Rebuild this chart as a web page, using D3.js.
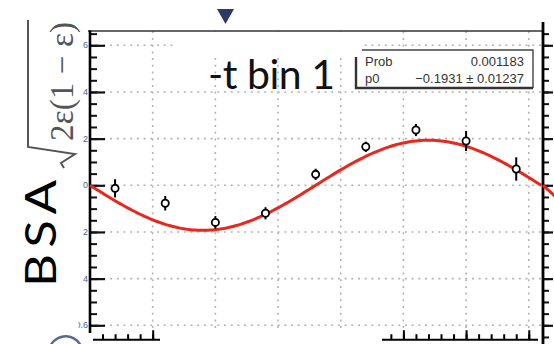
<!DOCTYPE html>
<html><head><meta charset="utf-8">
<script src="https://cdn.jsdelivr.net/npm/d3@7"></script>
<style>html,body{margin:0;padding:0;background:#fff;overflow:hidden}</style>
</head><body>
<svg id="chart" width="554" height="344"></svg>
<script>
// ---- data ----
const phiCenters = [20, 60, 100, 140, 180, 220, 260, 300, 340];
const bsaValues  = [-0.013, -0.077, -0.159, -0.120, 0.047, 0.165, 0.237, 0.190, 0.070];
const bsaErrors  = [0.039, 0.031, 0.027, 0.026, 0.024, 0.022, 0.026, 0.043, 0.050];
const yTickValues = [-0.6, -0.4, -0.2, 0, 0.2, 0.4, 0.6];
const yTickLabels = ["-0.6", "-0.4", "-0.2", "0", "0.2", "0.4", "0.6"];
const xGridValues = [50, 100, 150, 200, 250, 300, 350];
const fitP0 = -0.1931;
const nextPanelP0 = -0.28;
const statsNames  = ["Prob", "p0"];
const statsValues = ["0.001183", "\u22120.1931 \u00b1 0.01237"];
const titleText = "-t bin 1";
const yLabelMain = "BSA";
const yLabelFactor = "2\u03b5(1 \u2212 \u03b5)";

const svg = d3.select("#chart");
const x = d3.scaleLinear().domain([0, 360]).range([90, 541.3]);
const y = d3.scaleLinear().domain([-0.66, 0.66]).range([339.3, 31.3]);

// clip paths
const defs = svg.append("defs");
defs.append("clipPath").attr("id", "labClip")
  .call(c => { c.append("rect").attr("x", 83).attr("y", 25).attr("width", 8).attr("height", 290);
               c.append("rect").attr("x", 78.5).attr("y", 315).attr("width", 12).attr("height", 20); });
defs.append("clipPath").attr("id", "botClip")
  .call(c => { c.append("rect").attr("x", 93).attr("y", 320).attr("width", 67).attr("height", 24);
               c.append("rect").attr("x", 382).attr("y", 320).attr("width", 156).attr("height", 24); });

// grid
const grid = svg.append("g").attr("stroke", "#b3b3b3").attr("stroke-width", 1.6).attr("stroke-dasharray", "2,4.7");
grid.selectAll("line.h").data(yTickValues).join("line").attr("class", "h")
  .attr("x1", x(0)).attr("x2", x(360)).attr("y1", d => y(d)).attr("y2", d => y(d));
grid.selectAll("line.v").data(xGridValues).join("line").attr("class", "v")
  .attr("x1", d => x(d)).attr("x2", d => x(d)).attr("y1", y(0.66)).attr("y2", y(-0.63));

// white title pave hiding grid
svg.append("rect").attr("x", 177).attr("y", 32).attr("width", 186).attr("height", 26).attr("fill", "#fff");

// top frame line
svg.append("line").attr("x1", 88).attr("x2", 543).attr("y1", 31).attr("y2", 31)
  .attr("stroke", "#333").attr("stroke-width", 1.5);

// bottom axis (partially visible)
const bot = svg.append("g").attr("clip-path", "url(#botClip)");
bot.append("g").attr("transform", `translate(0,${y(-0.66)})`)
  .call(d3.axisBottom(x).tickValues(d3.range(0, 361, 10)).tickSize(-5).tickSizeOuter(0).tickFormat(""))
  .call(g => g.selectAll("line,path").attr("stroke", "#000").attr("stroke-width", 2));
bot.append("g").attr("transform", `translate(0,${y(-0.66)})`)
  .call(d3.axisBottom(x).tickValues(d3.range(0, 361, 50)).tickSize(-9).tickSizeOuter(0).tickFormat(""))
  .call(g => g.select(".domain").remove())
  .call(g => g.selectAll("line").attr("stroke", "#000").attr("stroke-width", 2));

// left axis
const minorY = d3.range(-12, 14).map(i => +(i * 0.05).toFixed(2));
svg.append("g").attr("transform", `translate(${x(0)},0)`)
  .call(d3.axisLeft(y).tickValues(minorY).tickSize(-7).tickFormat(""))
  .call(g => g.select(".domain").remove())
  .call(g => g.selectAll("line").attr("stroke", "#111").attr("stroke-width", 2));
svg.append("g").attr("transform", `translate(${x(0)},0)`)
  .call(d3.axisLeft(y).tickValues(yTickValues).tickSize(-15).tickFormat(""))
  .call(g => g.select(".domain").remove())
  .call(g => g.selectAll("line").attr("stroke", "#111").attr("stroke-width", 2.2));
const labG = svg.append("g").attr("clip-path", "url(#labClip)");
labG.selectAll("text").data(yTickValues).join("text")
  .attr("x", 88).attr("y", d => y(d)).attr("dy", "0.35em").attr("text-anchor", "end")
  .attr("fill", "#4a6490").attr("font-size", 9).attr("font-family", "Liberation Sans, Arial, sans-serif")
  .text((d, i) => yTickLabels[i]);
svg.append("line").attr("x1", x(0)).attr("x2", x(0)).attr("y1", 30.5).attr("y2", 333)
  .attr("stroke", "#000").attr("stroke-width", 2.6);

// right: neighbouring panel axis
const rightX = 543;
svg.append("g").attr("transform", `translate(${rightX},0)`)
  .call(d3.axisRight(y).tickValues(minorY.concat([-0.65])).tickSize(6).tickFormat(""))
  .call(g => g.select(".domain").remove())
  .call(g => g.selectAll("line").attr("stroke", "#111").attr("stroke-width", 2));
svg.append("g").attr("transform", `translate(${rightX},0)`)
  .call(d3.axisRight(y).tickValues(yTickValues).tickSize(10).tickFormat(""))
  .call(g => g.select(".domain").remove())
  .call(g => g.selectAll("line").attr("stroke", "#111").attr("stroke-width", 2.2));
svg.append("line").attr("x1", rightX).attr("x2", rightX).attr("y1", 22).attr("y2", 344)
  .attr("stroke", "#000").attr("stroke-width", 2.8);

// fit curves
const phiSamples = d3.range(0, 360.01, 2);
svg.append("path").datum(phiSamples)
  .attr("d", d3.line().x(d => x(d)).y(d => y(fitP0 * Math.sin(d * Math.PI / 180))))
  .attr("fill", "none").attr("stroke", "#e8271d").attr("stroke-width", 3);
const nextSamples = d3.range(0, 12.01, 1);
svg.append("path").datum(nextSamples)
  .attr("d", d3.line().x(d => rightX + x(d) - x(0)).y(d => y(nextPanelP0 * Math.sin(d * Math.PI / 180))))
  .attr("fill", "none").attr("stroke", "#e8271d").attr("stroke-width", 3);

// data points
const pts = svg.append("g");
pts.selectAll("line").data(phiCenters).join("line")
  .attr("x1", d => x(d)).attr("x2", d => x(d))
  .attr("y1", (d, i) => y(bsaValues[i] - bsaErrors[i])).attr("y2", (d, i) => y(bsaValues[i] + bsaErrors[i]))
  .attr("stroke", "#000").attr("stroke-width", 2);
pts.selectAll("circle").data(phiCenters).join("circle")
  .attr("cx", d => x(d)).attr("cy", (d, i) => y(bsaValues[i])).attr("r", 3.6)
  .attr("fill", "#fff").attr("stroke", "#000").attr("stroke-width", 1.8);

// stats box
svg.append("rect").attr("x", 362).attr("y", 50).attr("width", 171).attr("height", 37).attr("fill", "#fff");
svg.append("path").attr("d", "M362,50 H533 V88").attr("fill", "none").attr("stroke", "#444").attr("stroke-width", 1.4);
svg.append("path").attr("d", "M356,57 V88 H533").attr("fill", "none").attr("stroke", "#333").attr("stroke-width", 2.4);
const st = svg.append("g").attr("font-family", "Liberation Sans, Arial, sans-serif").attr("font-size", 13).attr("fill", "#333");
st.selectAll("text.n").data(statsNames).join("text").attr("class", "n")
  .attr("x", 365).attr("y", (d, i) => 66 + i * 17).text(d => d);
st.selectAll("text.v").data(statsValues).join("text").attr("class", "v")
  .attr("x", 524).attr("y", (d, i) => 66 + i * 17).attr("text-anchor", "end").text(d => d);

// title
svg.append("text").attr("x", 208).attr("y", 89).attr("font-family", "Lato, 'Open Sans', sans-serif")
  .attr("font-size", 41).attr("fill", "#111").attr("textLength", 127).text(titleText);

// y label
svg.append("text").attr("transform", "translate(56,233.5) rotate(-90) scale(1,0.84)").attr("text-anchor", "middle")
  .attr("font-family", "Lato, 'Open Sans', sans-serif").attr("font-size", 51).attr("fill", "#000")
  .attr("textLength", 107).attr("lengthAdjust", "spacing").text(yLabelMain);
const sq = svg.append("g").attr("transform", "translate(73,141) rotate(-90)");
sq.append("text").attr("x", 0).attr("y", 0).attr("font-family", "'Liberation Serif', 'DejaVu Serif', serif")
  .attr("font-size", 33).attr("fill", "#555").attr("textLength", 119).attr("lengthAdjust", "spacing").text(yLabelFactor);
sq.append("path").attr("d", "M-27,-9 L-22,-12 L-13,2 L-6,-45 L121,-45")
  .attr("fill", "none").attr("stroke", "#555").attr("stroke-width", 2);

// slide marker triangle
svg.append("path").attr("d", "M217,9 L234,9 L225.5,24 Z").attr("fill", "#2e3a66");
// partial logo arc at bottom-left
svg.append("path").attr("d", "M49,350 A17,17 0 0 1 81,346").attr("fill", "none").attr("stroke", "#5a6a8c").attr("stroke-width", 2.5);
</script>
</body></html>
